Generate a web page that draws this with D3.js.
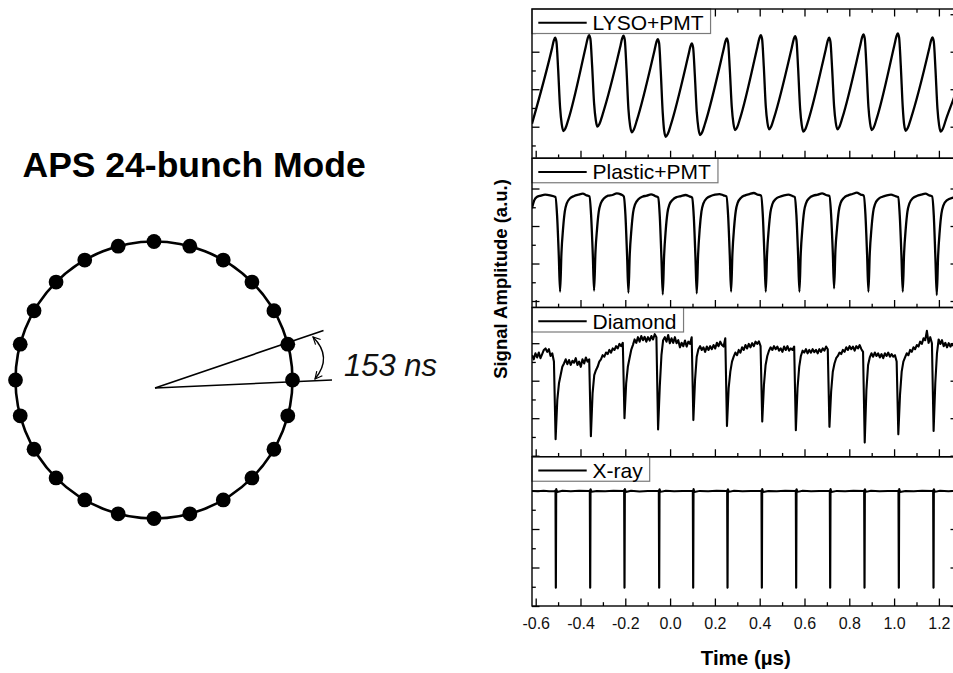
<!DOCTYPE html>
<html><head><meta charset="utf-8">
<script src="https://cdn.jsdelivr.net/npm/d3@7"></script>
<style>body{margin:0;background:#fff}svg{display:block}</style>
</head><body>
<svg id="c" width="953" height="673"></svg>
<script>
// ================= DATA =================
const diagramTitle = "APS 24-bunch Mode";
const bunchSpacingLabel = "153 ns";
const bunchAngles = [0,15,30,45,60,75,90,105,120,135,150,165,180,195,210,225,240,255,270,285,300,315,330,345];
const seriesNames = ["LYSO+PMT", "Plastic+PMT", "Diamond", "X-ray"];
const xTitle = "Time (\u00b5s)";
const yTitle = "Signal Amplitude (a.u.)";
const timeDomain = [-0.6165, 1.2853];
const timeTicksMajor = [-0.6,-0.4,-0.2,0.0,0.2,0.4,0.6,0.8,1.0,1.2];
const timeTickLabels = ["-0.6","-0.4","-0.2","0.0","0.2","0.4","0.6","0.8","1.0","1.2"];
const timeTicksMinor = [-0.5,-0.3,-0.1,0.1,0.3,0.5,0.7,0.9,1.1];
// amplitude domains of the four stacked panels (a.u.)
const ampDomains = [[-0.841,3.139],[-0.173,3.807],[-0.028,3.952],[0,3.877]];

// [time (us), amplitude (a.u.)]
const lyso = [
[-0.6165,0.080],
[-0.5283,2.062],[-0.5193,2.293],[-0.5134,2.373],[-0.5074,2.267],[-0.5000,1.556],[-0.4911,0.507],[-0.4836,0.062],[-0.4762,-0.116],[-0.4673,-0.044],[-0.4539,0.196],
[-0.3765,2.133],[-0.3676,2.364],[-0.3616,2.444],[-0.3557,2.338],[-0.3482,1.636],[-0.3393,0.622],[-0.3318,0.178],[-0.3244,0.000],[-0.3155,0.071],[-0.3021,0.311],
[-0.2232,2.116],[-0.2143,2.347],[-0.2083,2.427],[-0.2024,2.320],[-0.1949,1.573],[-0.1860,0.471],[-0.1786,0.027],[-0.1711,-0.151],[-0.1622,-0.080],[-0.1488,0.160],
[-0.0699,2.027],[-0.0610,2.258],[-0.0551,2.338],[-0.0491,2.231],[-0.0417,1.476],[-0.0327,0.356],[-0.0268,-0.089],[-0.0193,-0.267],[-0.0104,-0.196],[0.0030,0.044],
[0.0818,1.911],[0.0908,2.142],[0.0967,2.222],[0.1027,2.116],[0.1101,1.413],[0.1190,0.400],[0.1265,-0.044],[0.1339,-0.222],[0.1429,-0.151],[0.1563,0.089],
[0.2381,2.044],[0.2470,2.276],[0.2530,2.356],[0.2589,2.249],[0.2664,1.547],[0.2753,0.533],[0.2827,0.089],[0.2902,-0.089],[0.2991,-0.018],[0.3125,0.222],
[0.3899,2.133],[0.3988,2.364],[0.4048,2.444],[0.4107,2.338],[0.4182,1.618],[0.4271,0.551],[0.4345,0.107],[0.4420,-0.071],[0.4509,0.000],[0.4643,0.240],
[0.5432,2.107],[0.5521,2.338],[0.5580,2.418],[0.5640,2.311],[0.5714,1.573],[0.5804,0.489],[0.5878,0.044],[0.5952,-0.133],[0.6042,-0.062],[0.6176,0.178],
[0.6949,2.062],[0.7039,2.293],[0.7098,2.373],[0.7158,2.267],[0.7232,1.564],[0.7321,0.551],[0.7396,0.107],[0.7470,-0.071],[0.7560,0.000],[0.7693,0.240],
[0.8482,2.151],[0.8571,2.382],[0.8631,2.462],[0.8690,2.356],[0.8765,1.618],[0.8854,0.533],[0.8929,0.089],[0.9003,-0.089],[0.9092,-0.018],[0.9226,0.222],
[1.0015,2.178],[1.0104,2.409],[1.0164,2.489],[1.0223,2.382],[1.0298,1.636],[1.0387,0.516],[1.0446,0.071],[1.0521,-0.107],[1.0610,-0.036],[1.0744,0.204],
[1.1563,2.071],[1.1652,2.302],[1.1711,2.382],[1.1771,2.276],[1.1845,1.556],[1.1935,0.489],[1.2009,0.044],[1.2083,-0.133],[1.2173,-0.062],[1.2307,0.178],
[1.2634,0.711],[1.2853,1.070]
];

const plastic = [
[-0.6165,2.471],[-0.6071,2.676],[-0.5952,2.773],[-0.5774,2.809],[-0.5580,2.836],[-0.5357,2.818],
[-0.5119,2.773],[-0.5045,2.276],[-0.4970,1.227],[-0.4911,0.249],[-0.4851,1.271],[-0.4777,1.938],[-0.4702,2.382],[-0.4613,2.604],[-0.4464,2.738],[-0.4286,2.800],[-0.4092,2.836],[-0.3899,2.862],[-0.3720,2.818],
[-0.3601,2.791],[-0.3527,2.293],[-0.3452,1.253],[-0.3393,0.276],[-0.3333,1.298],[-0.3259,1.938],[-0.3185,2.382],[-0.3095,2.604],[-0.2946,2.738],[-0.2768,2.809],[-0.2574,2.827],[-0.2381,2.871],[-0.2202,2.844],
[-0.2068,2.791],[-0.1994,2.293],[-0.1920,1.200],[-0.1860,0.222],[-0.1801,1.244],[-0.1726,1.911],[-0.1652,2.356],[-0.1563,2.578],[-0.1414,2.711],[-0.1235,2.782],[-0.1042,2.809],[-0.0848,2.844],[-0.0670,2.800],
[-0.0536,2.764],[-0.0461,2.267],[-0.0387,1.156],[-0.0327,0.178],[-0.0268,1.200],[-0.0193,1.902],[-0.0119,2.347],[-0.0030,2.569],[0.0119,2.702],[0.0298,2.773],[0.0491,2.800],[0.0685,2.827],[0.0863,2.791],
[0.0982,2.756],[0.1057,2.258],[0.1131,1.182],[0.1190,0.204],[0.1250,1.227],[0.1324,1.938],[0.1399,2.382],[0.1488,2.604],[0.1637,2.738],[0.1815,2.800],[0.2009,2.836],[0.2202,2.853],[0.2381,2.818],
[0.2515,2.791],[0.2589,2.293],[0.2664,1.227],[0.2723,0.249],[0.2783,1.271],[0.2857,1.956],[0.2932,2.400],[0.3021,2.622],[0.3170,2.756],[0.3348,2.818],[0.3542,2.853],[0.3735,2.880],[0.3914,2.836],
[0.4063,2.809],[0.4137,2.311],[0.4211,1.227],[0.4271,0.249],[0.4330,1.271],[0.4405,1.920],[0.4479,2.364],[0.4568,2.587],[0.4717,2.720],[0.4896,2.782],[0.5089,2.818],[0.5283,2.836],[0.5461,2.800],
[0.5565,2.773],[0.5640,2.276],[0.5714,1.227],[0.5774,0.249],[0.5833,1.271],[0.5908,1.947],[0.5982,2.391],[0.6071,2.613],[0.6220,2.747],[0.6399,2.809],[0.6592,2.836],[0.6786,2.871],[0.6964,2.827],
[0.7113,2.800],[0.7188,2.302],[0.7262,1.316],[0.7321,0.338],[0.7381,1.360],[0.7455,1.956],[0.7530,2.400],[0.7619,2.622],[0.7768,2.756],[0.7946,2.818],[0.8140,2.853],[0.8333,2.889],[0.8512,2.836],
[0.8646,2.809],[0.8720,2.311],[0.8795,1.227],[0.8854,0.249],[0.8914,1.271],[0.8988,1.920],[0.9063,2.364],[0.9152,2.587],[0.9301,2.720],[0.9479,2.782],[0.9673,2.818],[0.9866,2.836],[1.0045,2.800],
[1.0179,2.773],[1.0253,2.276],[1.0327,1.227],[1.0387,0.249],[1.0446,1.271],[1.0521,1.938],[1.0595,2.382],[1.0685,2.604],[1.0833,2.738],[1.1012,2.800],[1.1205,2.836],[1.1399,2.862],[1.1577,2.818],
[1.1696,2.791],[1.1771,2.293],[1.1845,1.138],[1.1905,0.160],[1.1964,1.182],[1.2039,1.884],[1.2113,2.329],[1.2202,2.551],[1.2351,2.684],[1.2634,2.756],[1.2853,2.775]
];

// diamond detector: oscilloscope record, first sample time and sample interval (us)
const diamondStart = -0.6161;
const diamondStep = 0.0075;
const diamondValues = [
2.68,2.57,2.73,2.62,2.75,2.60,2.71,2.82,2.86,2.77,2.84,2.66,2.73,2.51,0.44,1.48,1.93,2.15,2.37,2.46,
2.57,2.44,2.55,2.42,2.53,2.48,2.60,2.42,2.51,2.37,2.57,2.46,2.62,2.51,2.57,0.52,1.66,2.15,2.28,2.37,
2.51,2.57,2.68,2.64,2.75,2.71,2.82,2.75,2.86,2.82,2.92,2.86,2.98,2.92,3.01,1.00,1.93,2.37,2.60,2.82,
2.95,3.10,3.01,3.16,3.04,3.19,3.08,3.17,3.04,3.16,3.07,3.19,3.10,3.24,3.16,0.70,1.84,2.68,3.08,3.16,
3.04,3.22,3.00,3.13,3.01,3.16,3.00,3.08,2.89,3.01,2.92,3.07,2.91,3.04,2.98,3.16,0.95,2.02,2.64,2.84,
2.92,2.82,2.89,2.77,2.91,2.82,2.92,2.84,2.95,2.86,3.01,2.92,3.04,2.95,2.91,3.13,0.79,1.80,2.24,2.51,
2.64,2.75,2.68,2.82,2.75,2.89,2.82,2.95,2.86,2.98,2.89,3.00,2.92,3.04,2.98,3.05,2.92,0.91,1.88,2.42,
2.66,2.80,2.89,2.82,2.92,2.84,2.91,2.80,2.86,2.77,2.91,2.82,2.92,2.80,2.86,2.82,2.91,0.68,1.80,2.37,
2.66,2.80,2.75,2.84,2.73,2.82,2.75,2.84,2.76,2.82,2.73,2.84,2.77,2.86,2.80,2.91,2.84,0.77,1.71,2.24,
2.46,2.60,2.66,2.75,2.71,2.82,2.77,2.89,2.82,2.92,2.84,2.91,2.80,2.92,2.86,2.95,2.84,2.77,0.35,1.75,
2.42,2.62,2.73,2.64,2.75,2.66,2.73,2.62,2.71,2.60,2.73,2.66,2.75,2.64,2.71,2.64,2.68,2.51,0.57,1.62,
2.24,2.51,2.62,2.73,2.68,2.82,2.77,2.89,2.84,2.95,2.91,3.04,2.98,3.13,3.08,3.33,3.01,3.16,3.00,0.66,
1.93,2.73,3.10,2.98,3.08,2.92,3.01,2.89,3.00,2.91,2.98,2.92
];

const xray = [
[-0.6165,2.990],[-0.5900,2.980],[-0.5650,2.995],[-0.5400,2.980],
[-0.5149,2.987],[-0.5119,3.004],[-0.5104,0.476],[-0.5096,0.480],[-0.5082,3.039],[-0.5044,2.961],[-0.4806,2.996],[-0.4434,2.978],[-0.4062,2.996],
[-0.3616,2.985],[-0.3586,3.004],[-0.3571,0.476],[-0.3563,0.480],[-0.3549,3.035],[-0.3511,2.965],[-0.3273,2.990],[-0.2901,2.980],[-0.2529,2.995],
[-0.2084,2.987],[-0.2054,3.010],[-0.2039,0.476],[-0.2031,0.480],[-0.2017,3.040],[-0.1979,2.960],[-0.1741,2.995],[-0.1369,2.975],[-0.0997,2.990],
[-0.0536,2.985],[-0.0506,3.005],[-0.0491,0.476],[-0.0483,0.480],[-0.0469,3.035],[-0.0431,2.965],[-0.0193,2.995],[0.0179,2.980],[0.0551,2.990],
[0.0982,2.987],[0.1012,3.000],[0.1027,0.476],[0.1035,0.480],[0.1049,3.040],[0.1087,2.960],[0.1325,2.990],[0.1697,2.980],[0.2069,2.995],
[0.2515,2.985],[0.2545,3.005],[0.2560,0.476],[0.2568,0.480],[0.2582,3.035],[0.2620,2.965],[0.2858,2.995],[0.3230,2.978],[0.3602,2.990],
[0.4047,2.987],[0.4077,3.004],[0.4092,0.476],[0.4100,0.480],[0.4114,3.040],[0.4152,2.962],[0.4390,2.990],[0.4762,2.980],[0.5134,2.995],
[0.5580,2.985],[0.5610,3.005],[0.5625,0.476],[0.5633,0.480],[0.5647,3.035],[0.5685,2.965],[0.5923,2.995],[0.6295,2.978],[0.6667,2.990],
[0.7098,2.987],[0.7128,3.004],[0.7143,0.476],[0.7151,0.480],[0.7165,3.040],[0.7203,2.960],[0.7441,2.990],[0.7813,2.980],[0.8185,2.995],
[0.8631,2.985],[0.8661,3.005],[0.8676,0.476],[0.8684,0.480],[0.8698,3.035],[0.8736,2.965],[0.8974,2.995],[0.9346,2.978],[0.9718,2.990],
[1.0163,2.987],[1.0193,3.004],[1.0208,0.476],[1.0216,0.480],[1.0230,3.040],[1.0268,2.962],[1.0506,2.990],[1.0878,2.980],[1.1250,2.995],
[1.1711,2.985],[1.1741,3.005],[1.1756,0.476],[1.1764,0.480],[1.1778,3.035],[1.1816,2.965],[1.2054,2.995],[1.2426,2.980],[1.2853,2.990]
];

// ================= DRAWING =================
const font = "'Liberation Sans', Arial, Helvetica, sans-serif";
const svg = d3.select("#c");

// ---- left: bunch pattern diagram ----
svg.append("text").attr("x", 22.5).attr("y", 176.5)
  .attr("font-family", font).attr("font-weight", "bold").attr("font-size", 35.5)
  .attr("fill", "#000").text(diagramTitle);

const ringCx = 154, ringCy = 380, ringR = 138.5;
const ang = d3.scaleLinear().domain([0, 360]).range([0, 2 * Math.PI]);
svg.append("circle").attr("cx", ringCx).attr("cy", ringCy).attr("r", ringR)
  .attr("fill", "none").attr("stroke", "#000").attr("stroke-width", 2.6);
svg.append("g").selectAll("circle").data(bunchAngles).join("circle")
  .attr("cx", d => ringCx + ringR * Math.cos(ang(d)))
  .attr("cy", d => ringCy - ringR * Math.sin(ang(d)))
  .attr("r", 7.4).attr("fill", "#000");

// spacing indicator
const ox = 155, oy = 388;
svg.append("line").attr("x1", ox).attr("y1", oy).attr("x2", 323.5).attr("y2", 330.5)
  .attr("stroke", "#000").attr("stroke-width", 1.6);
svg.append("line").attr("x1", ox).attr("y1", oy).attr("x2", 332).attr("y2", 380)
  .attr("stroke", "#000").attr("stroke-width", 1.6);
const defs = svg.append("defs");
defs.append("marker").attr("id", "arr").attr("viewBox", "0 0 10 10")
  .attr("refX", 9).attr("refY", 5).attr("markerWidth", 9).attr("markerHeight", 9)
  .attr("markerUnits", "userSpaceOnUse").attr("orient", "auto-start-reverse")
  .append("path").attr("d", "M1,1 L9,5 L1,9").attr("fill", "none")
  .attr("stroke", "#000").attr("stroke-width", 1.3);
svg.append("path").attr("d", "M313,337 Q333,357 315,379")
  .attr("fill", "none").attr("stroke", "#000").attr("stroke-width", 1.4)
  .attr("marker-start", "url(#arr)").attr("marker-end", "url(#arr)");
svg.append("text").attr("x", 344).attr("y", 376)
  .attr("font-family", font).attr("font-style", "italic").attr("font-size", 31)
  .attr("fill", "#111").text(bunchSpacingLabel);

// ---- right: stacked panels ----
const pLeft = 532, pRight = 958, pTop = 9, pBottom = 606;
const nP = 4, pH = (pBottom - pTop) / nP;
const x = d3.scaleLinear().domain(timeDomain).range([pLeft, pRight]);

const panels = [
  { name: seriesNames[0], pts: lyso, curve: d3.curveMonotoneX, w: 2.3 },
  { name: seriesNames[1], pts: plastic, curve: d3.curveMonotoneX, w: 2.3 },
  { name: seriesNames[2], pts: diamondValues.map((v, i) => [diamondStart + i * diamondStep, v]), curve: d3.curveLinear, w: 2.1 },
  { name: seriesNames[3], pts: xray, curve: d3.curveLinear, w: 2.0 }
];

function styleAxis(g) {
  g.select(".domain").remove();
  g.selectAll(".tick line").attr("stroke", "#000").attr("stroke-width", 1.3);
}

panels.forEach((p, i) => {
  const pt = pTop + i * pH, pb = pt + pH;
  const dom = ampDomains[i];
  const y = d3.scaleLinear().domain(dom).range([pb, pt]);
  const clipId = "clip" + i;
  defs.append("clipPath").attr("id", clipId).append("rect")
    .attr("x", pLeft).attr("y", pt).attr("width", pRight - pLeft).attr("height", pH);

  const line = d3.line().x(d => x(d[0])).y(d => y(d[1])).curve(p.curve);
  svg.append("path").datum(p.pts).attr("clip-path", `url(#${clipId})`)
    .attr("d", line).attr("fill", "none").attr("stroke", "#000")
    .attr("stroke-width", p.w).attr("stroke-linejoin", "round");

  // y ticks (inward, both sides)
  const yMaj = d3.range(Math.ceil(dom[0]), Math.floor(dom[1]) + 1);
  const yMin = d3.range(Math.ceil(dom[0] * 2) / 2, dom[1], 0.5).filter(v => !Number.isInteger(v));
  svg.append("g").attr("transform", `translate(${pLeft},0)`)
    .call(d3.axisLeft(y).tickValues(yMaj).tickSize(-7.5).tickFormat("")).call(styleAxis);
  svg.append("g").attr("transform", `translate(${pLeft},0)`)
    .call(d3.axisLeft(y).tickValues(yMin).tickSize(-3.8).tickFormat("")).call(styleAxis);
  svg.append("g").attr("transform", `translate(${pRight},0)`)
    .call(d3.axisRight(y).tickValues(yMaj).tickSize(-7.5).tickFormat("")).call(styleAxis);
  svg.append("g").attr("transform", `translate(${pRight},0)`)
    .call(d3.axisRight(y).tickValues(yMin).tickSize(-3.8).tickFormat("")).call(styleAxis);

  // x ticks at panel bottom (inward)
  const last = i === nP - 1;
  const gx = svg.append("g").attr("transform", `translate(0,${pb})`)
    .call(d3.axisBottom(x).tickValues(timeTicksMajor).tickSize(-7.5).tickPadding(11.5)
      .tickFormat(last ? ((d, k) => timeTickLabels[k]) : ""))
    .call(styleAxis);
  gx.selectAll("text").attr("font-family", font).attr("font-size", 16).attr("fill", "#111");
  svg.append("g").attr("transform", `translate(0,${pb})`)
    .call(d3.axisBottom(x).tickValues(timeTicksMinor).tickSize(-3.8).tickFormat("")).call(styleAxis);
  if (i === 0) {
    svg.append("g").attr("transform", `translate(0,${pt})`)
      .call(d3.axisTop(x).tickValues(timeTicksMajor).tickSize(-7.5).tickFormat("")).call(styleAxis);
    svg.append("g").attr("transform", `translate(0,${pt})`)
      .call(d3.axisTop(x).tickValues(timeTicksMinor).tickSize(-3.8).tickFormat("")).call(styleAxis);
  }

  // legend box
  const lg = svg.append("g");
  const txt = lg.append("text").attr("x", pLeft + 60.5).attr("y", pt + 21)
    .attr("font-family", font).attr("font-size", 21).attr("fill", "#000").text(p.name);
  const tw = txt.node().getComputedTextLength();
  lg.insert("rect", "text").attr("x", pLeft).attr("y", pt)
    .attr("width", 60.5 + tw + 7).attr("height", 24.5)
    .attr("fill", "#fff").attr("stroke", "#7a7a7a").attr("stroke-width", 1.2);
  lg.append("line").attr("x1", pLeft + 6.3).attr("x2", pLeft + 54.7)
    .attr("y1", pt + 13.7).attr("y2", pt + 13.7)
    .attr("stroke", "#000").attr("stroke-width", 2);

  // frame
  svg.append("rect").attr("x", pLeft).attr("y", pt).attr("width", pRight - pLeft).attr("height", pH)
    .attr("fill", "none").attr("stroke", "#000").attr("stroke-width", 1.4);
});

// axis titles
svg.append("text").attr("x", 745.8).attr("y", 665).attr("text-anchor", "middle")
  .attr("font-family", font).attr("font-weight", "bold").attr("font-size", 20.5)
  .attr("fill", "#000").text(xTitle);
svg.append("text").attr("transform", "translate(506.5,279) rotate(-90)")
  .attr("text-anchor", "middle").attr("font-family", font).attr("font-weight", "bold")
  .attr("font-size", 18.5).attr("fill", "#000").text(yTitle);
</script>
</body></html>
